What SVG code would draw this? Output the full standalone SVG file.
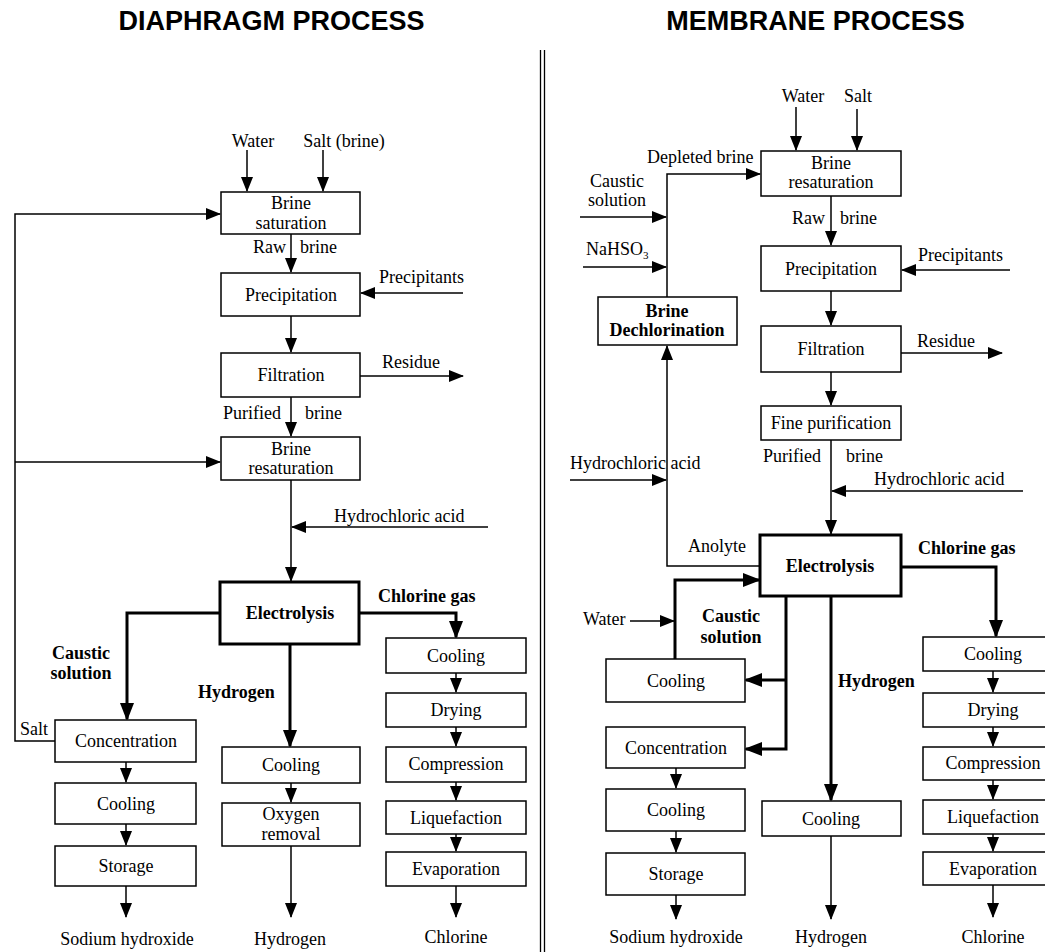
<svg xmlns="http://www.w3.org/2000/svg" width="1045" height="952" viewBox="0 0 1045 952">
  <defs>
    <marker id="ah" markerUnits="userSpaceOnUse" markerWidth="15" markerHeight="12" refX="14" refY="6" orient="auto">
      <path d="M0,0 L15,6 L0,12 z" fill="#000"/>
    </marker>
    <marker id="ahb" markerUnits="userSpaceOnUse" markerWidth="18" markerHeight="14" refX="16" refY="7" orient="auto">
      <path d="M0,0 L18,7 L0,14 z" fill="#000"/>
    </marker>
    <style>
      .box { fill: #fff; stroke: #000; stroke-width: 1.5; }
      .boxb { fill: #fff; stroke: #000; stroke-width: 3; }
      .ln { fill: none; stroke: #000; stroke-width: 1.5; marker-end: url(#ah); }
      .lnp { fill: none; stroke: #000; stroke-width: 1.5; }
      .lnb { fill: none; stroke: #000; stroke-width: 3; marker-end: url(#ahb); }
      .t { font-family: "Liberation Serif", "Times New Roman", serif; font-size: 18px; fill: #000; text-anchor: middle; }
      .s { text-anchor: start; }
      .b { font-weight: bold; }
      .title { font-family: "Liberation Sans", Arial, sans-serif; font-size: 27px; font-weight: bold; fill: #000; text-anchor: middle; }
      .div { stroke: #000; stroke-width: 1.3; }
    </style>
  </defs>
  <rect width="1045" height="952" fill="#fff"/>

  <!-- headings -->
  <text class="title" x="271.5" y="30">DIAPHRAGM PROCESS</text>
  <text class="title" x="815.5" y="30">MEMBRANE PROCESS</text>

  <!-- double divider -->
  <g id="divider">
    <line class="div" x1="540.5" y1="50" x2="540.5" y2="952"/>
    <line class="div" x1="544.5" y1="50" x2="544.5" y2="952"/>
  </g>

  <!-- ===== Diaphragm process ===== -->
  <g id="connectors-diaphragm">
    <path class="ln" d="M247,150 V191"/>
    <path class="ln" d="M323,150 V191"/>
    <path class="ln" d="M291,234 V272"/>
    <path class="ln" d="M291,316 V352"/>
    <path class="ln" d="M463,293 H361"/>
    <path class="ln" d="M360,376 H463"/>
    <path class="ln" d="M291,397 V436"/>
    <path class="ln" d="M291,480 V581"/>
    <path class="ln" d="M488,527 H292"/>
    <path class="ln" d="M55,741 H15 V214 H220"/>
    <path class="ln" d="M15,462 H220"/>
    <path class="lnb" d="M220,613 H127 V719"/>
    <path class="lnb" d="M359,613 H456 V637"/>
    <path class="lnb" d="M290,644 V746"/>
    <path class="ln" d="M126,762 V782"/>
    <path class="ln" d="M126,824 V845"/>
    <path class="ln" d="M126,886 V917"/>
    <path class="ln" d="M291,783 V802"/>
    <path class="ln" d="M291,846 V917"/>
    <path class="ln" d="M456,673 V692"/>
    <path class="ln" d="M456,727 V746"/>
    <path class="ln" d="M456,782 V800"/>
    <path class="ln" d="M456,834 V851"/>
    <path class="ln" d="M456,886 V917"/>
  </g>

  <g id="d-brine-saturation">
    <rect class="box" x="221" y="192" width="139" height="42"/>
    <text class="t" x="291" y="209">Brine</text>
    <text class="t" x="291" y="229">saturation</text>
  </g>
  <g id="d-precipitation">
    <rect class="box" x="221" y="273" width="139" height="43"/>
    <text class="t" x="291" y="301">Precipitation</text>
  </g>
  <g id="d-filtration">
    <rect class="box" x="221" y="353" width="139" height="44"/>
    <text class="t" x="291" y="381">Filtration</text>
  </g>
  <g id="d-brine-resaturation">
    <rect class="box" x="221" y="437" width="139" height="43"/>
    <text class="t" x="291" y="455">Brine</text>
    <text class="t" x="291" y="474">resaturation</text>
  </g>
  <g id="d-electrolysis">
    <rect class="boxb" x="220" y="582" width="139" height="62"/>
    <text class="t b" x="290" y="619">Electrolysis</text>
  </g>
  <g id="d-concentration">
    <rect class="box" x="55" y="720" width="141" height="42"/>
    <text class="t" x="126" y="747">Concentration</text>
  </g>
  <g id="d-naoh-cooling">
    <rect class="box" x="55" y="783" width="141" height="41"/>
    <text class="t" x="126" y="810">Cooling</text>
  </g>
  <g id="d-storage">
    <rect class="box" x="55" y="846" width="141" height="40"/>
    <text class="t" x="126" y="872">Storage</text>
  </g>
  <g id="d-h2-cooling">
    <rect class="box" x="222" y="747" width="138" height="36"/>
    <text class="t" x="291" y="771">Cooling</text>
  </g>
  <g id="d-oxygen-removal">
    <rect class="box" x="222" y="803" width="138" height="43"/>
    <text class="t" x="291" y="820">Oxygen</text>
    <text class="t" x="291" y="840">removal</text>
  </g>
  <g id="d-cl-cooling">
    <rect class="box" x="386" y="638" width="140" height="35"/>
    <text class="t" x="456" y="662">Cooling</text>
  </g>
  <g id="d-drying">
    <rect class="box" x="386" y="693" width="140" height="34"/>
    <text class="t" x="456" y="716">Drying</text>
  </g>
  <g id="d-compression">
    <rect class="box" x="386" y="747" width="140" height="35"/>
    <text class="t" x="456" y="770">Compression</text>
  </g>
  <g id="d-liquefaction">
    <rect class="box" x="386" y="801" width="140" height="33"/>
    <text class="t" x="456" y="824">Liquefaction</text>
  </g>
  <g id="d-evaporation">
    <rect class="box" x="386" y="852" width="140" height="34"/>
    <text class="t" x="456" y="875">Evaporation</text>
  </g>

  <g id="d-labels">
    <text class="t" x="253" y="147">Water</text>
    <text class="t" x="344" y="147">Salt (brine)</text>
    <text class="t s" x="253" y="253">Raw</text>
    <text class="t s" x="300" y="253">brine</text>
    <text class="t s" x="379" y="283">Precipitants</text>
    <text class="t s" x="382" y="368">Residue</text>
    <text class="t s" x="223" y="419">Purified</text>
    <text class="t s" x="305" y="419">brine</text>
    <text class="t s" x="334" y="522">Hydrochloric acid</text>
    <text class="t s b" x="378" y="602">Chlorine gas</text>
    <text class="t b" x="81" y="659">Caustic</text>
    <text class="t b" x="81" y="679">solution</text>
    <text class="t s b" x="198" y="698">Hydrogen</text>
    <text class="t s" x="20" y="735">Salt</text>
    <text class="t" x="127" y="945">Sodium hydroxide</text>
    <text class="t" x="290" y="945">Hydrogen</text>
    <text class="t" x="456" y="943">Chlorine</text>
  </g>

  <!-- ===== Membrane process ===== -->
  <g id="connectors-membrane">
    <path class="ln" d="M796,107 V150"/>
    <path class="ln" d="M857,109 V150"/>
    <path class="ln" d="M667,297 V174 H760"/>
    <path class="ln" d="M580,217 H666"/>
    <path class="ln" d="M583,267 H666"/>
    <path class="ln" d="M831,196 V245"/>
    <path class="ln" d="M831,291 V325"/>
    <path class="ln" d="M831,372 V405"/>
    <path class="ln" d="M1010,270 H902"/>
    <path class="ln" d="M901,353 H1002"/>
    <path class="ln" d="M831,440 V534"/>
    <path class="ln" d="M1023,491 H832"/>
    <path class="ln" d="M570,480 H666"/>
    <path class="ln" d="M760,566 H667 V346"/>
    <path class="lnb" d="M901,567 H996 V636"/>
    <path class="lnb" d="M675,659 V580 H759"/>
    <path class="lnb" d="M786,596 V749 H746"/>
    <path class="lnb" d="M786,680 H746"/>
    <path class="lnb" d="M831,596 V800"/>
    <path class="ln" d="M630,621 H674"/>
    <path class="ln" d="M676,768 V788"/>
    <path class="ln" d="M676,831 V852"/>
    <path class="ln" d="M676,895 V919"/>
    <path class="ln" d="M831,836 V919"/>
    <path class="ln" d="M993,671 V692"/>
    <path class="ln" d="M993,727 V746"/>
    <path class="ln" d="M993,780 V799"/>
    <path class="ln" d="M993,834 V851"/>
    <path class="ln" d="M993,885 V917"/>
  </g>

  <g id="m-brine-resaturation">
    <rect class="box" x="761" y="151" width="140" height="45"/>
    <text class="t" x="831" y="169">Brine</text>
    <text class="t" x="831" y="188">resaturation</text>
  </g>
  <g id="m-precipitation">
    <rect class="box" x="761" y="246" width="140" height="45"/>
    <text class="t" x="831" y="275">Precipitation</text>
  </g>
  <g id="m-filtration">
    <rect class="box" x="761" y="326" width="140" height="46"/>
    <text class="t" x="831" y="355">Filtration</text>
  </g>
  <g id="m-fine-purification">
    <rect class="box" x="761" y="406" width="140" height="34"/>
    <text class="t" x="831" y="429">Fine purification</text>
  </g>
  <g id="m-dechlorination">
    <rect class="box" x="598" y="297" width="139" height="48"/>
    <text class="t b" x="667" y="317">Brine</text>
    <text class="t b" x="667" y="336">Dechlorination</text>
  </g>
  <g id="m-electrolysis">
    <rect class="boxb" x="760" y="535" width="141" height="61"/>
    <text class="t b" x="830" y="572">Electrolysis</text>
  </g>
  <g id="m-caustic-cooling">
    <rect class="box" x="606" y="659" width="139" height="43"/>
    <text class="t" x="676" y="687">Cooling</text>
  </g>
  <g id="m-concentration">
    <rect class="box" x="606" y="727" width="139" height="41"/>
    <text class="t" x="676" y="754">Concentration</text>
  </g>
  <g id="m-naoh-cooling">
    <rect class="box" x="606" y="789" width="139" height="42"/>
    <text class="t" x="676" y="816">Cooling</text>
  </g>
  <g id="m-storage">
    <rect class="box" x="606" y="853" width="139" height="42"/>
    <text class="t" x="676" y="880">Storage</text>
  </g>
  <g id="m-h2-cooling">
    <rect class="box" x="762" y="801" width="139" height="35"/>
    <text class="t" x="831" y="825">Cooling</text>
  </g>
  <g id="m-cl-cooling">
    <rect class="box" x="923" y="637" width="140" height="34"/>
    <text class="t" x="993" y="660">Cooling</text>
  </g>
  <g id="m-drying">
    <rect class="box" x="923" y="693" width="140" height="34"/>
    <text class="t" x="993" y="716">Drying</text>
  </g>
  <g id="m-compression">
    <rect class="box" x="923" y="747" width="140" height="33"/>
    <text class="t" x="993" y="769">Compression</text>
  </g>
  <g id="m-liquefaction">
    <rect class="box" x="923" y="800" width="140" height="34"/>
    <text class="t" x="993" y="823">Liquefaction</text>
  </g>
  <g id="m-evaporation">
    <rect class="box" x="923" y="852" width="140" height="33"/>
    <text class="t" x="993" y="875">Evaporation</text>
  </g>

  <g id="m-labels">
    <text class="t" x="803" y="102">Water</text>
    <text class="t" x="858" y="102">Salt</text>
    <text class="t s" x="647" y="163">Depleted brine</text>
    <text class="t" x="617" y="187">Caustic</text>
    <text class="t" x="617" y="206">solution</text>
    <text class="t s" x="586" y="255">NaHSO<tspan font-size="11" dy="4">3</tspan></text>
    <text class="t s" x="792" y="224">Raw</text>
    <text class="t s" x="840" y="224">brine</text>
    <text class="t s" x="918" y="261">Precipitants</text>
    <text class="t s" x="917" y="347">Residue</text>
    <text class="t s" x="763" y="462">Purified</text>
    <text class="t s" x="846" y="462">brine</text>
    <text class="t s" x="874" y="485">Hydrochloric acid</text>
    <text class="t s" x="570" y="469">Hydrochloric acid</text>
    <text class="t s" x="688" y="552">Anolyte</text>
    <text class="t s b" x="918" y="554">Chlorine gas</text>
    <text class="t s" x="583" y="625">Water</text>
    <text class="t b" x="731" y="622">Caustic</text>
    <text class="t b" x="731" y="643">solution</text>
    <text class="t s b" x="838" y="687">Hydrogen</text>
    <text class="t" x="676" y="943">Sodium hydroxide</text>
    <text class="t" x="831" y="943">Hydrogen</text>
    <text class="t" x="993" y="943">Chlorine</text>
  </g>
</svg>
